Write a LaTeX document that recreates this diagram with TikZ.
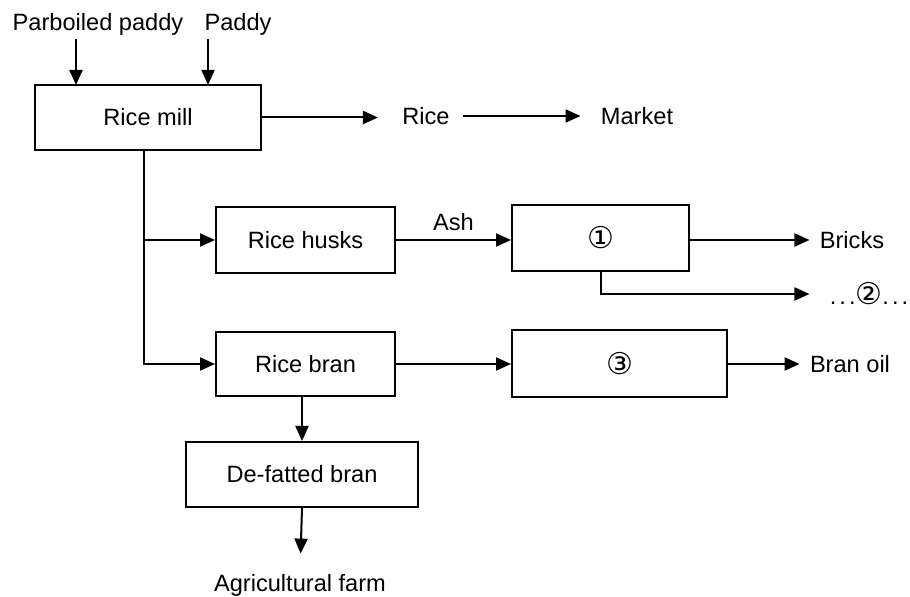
\documentclass[tikz,border=0pt]{standalone}
\usepackage{fontspec}
\setmainfont{Liberation Sans}
\newfontfamily\circfont{DejaVu Sans}
\usetikzlibrary{arrows.meta}
\newcommand{\circnum}[1]{{\circfont\fontsize{15}{16}\selectfont #1}}
\tikzset{
  box/.style={draw, line width=1pt, black, inner sep=0pt},
  lbl/.style={inner sep=0pt},
  flow/.style={line width=1pt, black, -{Triangle[length=7.5pt,width=6.5pt]}}
}

\begin{document}
\begin{tikzpicture}[x=0.5pt, y=-0.5pt, font=\fontsize{11.8}{14}\selectfont]
\useasboundingbox (0,0) rectangle (910,597);
\node[lbl] (parboiled) at (98,24) {Parboiled paddy};
\node[lbl] (paddy) at (238,24) {Paddy};
\node[box, minimum width=113pt, minimum height=32.5pt] (mill) at (148,117.5) {Rice mill};
\node[lbl] (rice) at (426,116) {Rice};
\node[lbl] (market) at (637,116) {Market};
\node[box, minimum width=89.5pt, minimum height=33pt] (husks) at (305.5,240) {Rice husks};
\node[box, minimum width=89.5pt, minimum height=32pt] (bran) at (305.5,364) {Rice bran};
\node[box, minimum width=88.5pt, minimum height=33pt] (step1) at (600.5,238) {\circnum{①}};
\node[box, minimum width=107.5pt, minimum height=33.5pt] (step3) at (619.5,364) {\circnum{③}};
\node[box, minimum width=116pt, minimum height=32.5pt] (defat) at (302,474.5) {De-fatted bran};
\node[lbl] (bricks) at (852,240) {Bricks};
\node[lbl] (other) at (869,294) {.\kern1.5pt.\kern1.5pt.\circnum{②}.\kern1.5pt.\kern1.5pt.};
\node[lbl] (branoil) at (850,364) {Bran oil};
\node[lbl] (farm) at (300,585) {Agricultural farm};
\coordinate (in1) at (76,85);
\coordinate (in2) at (208,85);
\coordinate (trunk) at (144,364);

\draw[flow, shorten <=2pt] (parboiled.south -| in1) -- (in1);
\draw[flow, shorten <=2pt] (paddy.south -| in2) -- (in2);
\draw[flow, shorten >=12pt] (mill.east) -- (mill.east -| rice.west);
\draw[flow, shorten <=6.5pt, shorten >=10pt] (rice.east) -- (market.west);
\draw[flow] (mill.south -| trunk) |- (bran.west);
\draw[flow] (husks.west -| trunk) -- (husks.west);
\draw[flow] (husks.east) -- (husks.east -| step1.west) node[midway, above, lbl, yshift=4pt] {Ash};
\draw[flow, shorten >=5pt] (step1.east |- bricks.west) -- (bricks.west);
\draw[flow, shorten >=10pt] (step1.south) |- (other.west);
\draw[flow] (bran.east) -- (step3.west);
\draw[flow, shorten >=5pt] (step3.east) -- (branoil.west);
\draw[flow] (bran.south -| defat.north) -- (defat.north);
\draw[flow, shorten >=10pt] (defat.south) -- (farm.north);
\end{tikzpicture}
\end{document}
